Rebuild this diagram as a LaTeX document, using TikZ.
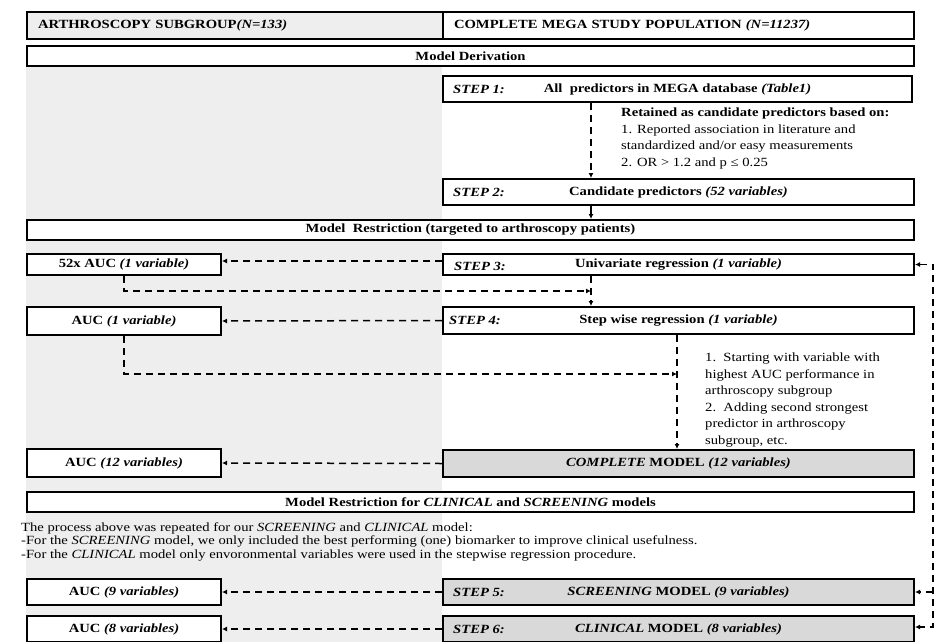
\documentclass[tikz,border=0pt]{standalone}
\usepackage{fontspec}
\setmainfont[FakeStretch=1.17]{Liberation Serif}
\usepackage{tikz}
\usetikzlibrary{arrows.meta}

\begin{document}
\begin{tikzpicture}[x=1pt,y=-1pt,
  box/.style={draw=black,line width=2pt,inner sep=0pt,anchor=north west,
    font=\fontsize{12.5}{14}\selectfont\bfseries},
  hdr/.style={box,minimum height=27pt,inner xsep=11pt,align=left},
  bar/.style={box,minimum width=887pt,minimum height=20pt},
  stepbox/.style={box,minimum width=471pt,minimum height=26pt},
  aucbox/.style={box,fill=white,minimum width=194pt,minimum height=26pt},
  steplbl/.style={anchor=west,inner sep=0pt,font=\fontsize{12.5}{14}\selectfont\bfseries\itshape},
  note/.style={anchor=north west,inner sep=0pt,align=left,font=\fontsize{12.5}{16.5}\selectfont},
  dline/.style={line width=1.5pt,dash pattern=on 7pt off 5pt},
  conn/.style={dline,-{Latex[length=5pt,width=5pt]}},
  bothconn/.style={dline,{Latex[length=5pt,width=5pt]}-{Latex[length=5pt,width=5pt]}}]
  \definecolor{subgray}{RGB}{238,238,238}
  \definecolor{modgray}{RGB}{217,217,217}
  \useasboundingbox (0,0) rectangle (939,642);
  \fill[subgray] (26,64) rectangle (442,642);
  % headers
  \node[hdr,fill=subgray,text width=394pt] (hdrL) at (26,11) {ARTHROSCOPY SUBGROUP\textit{(N=133)}};
  \node[hdr,fill=white,text width=449pt] (hdrR) at (442,11) {COMPLETE MEGA STUDY POPULATION \textit{(N=11237)}};
  \node[bar,fill=white] (derive) at (26,45) {Model Derivation};
  % derivation steps
  \node[stepbox,fill=white,minimum width=469pt] (step1) at (442,75) {All\ \ predictors in MEGA database \textit{(Table1)}};
  \node[steplbl] (step1lbl) at ([xshift=11pt]step1.west) {STEP 1:};
  \node[note] (retain) at (621,108) {\textbf{Retained as candidate predictors based on:}\\
    1. Reported association in literature and\\
    standardized and/or easy measurements\\
    2. OR > 1.2 and p ≤ 0.25};
  \node[stepbox,fill=white] (step2) at (442,178) {Candidate predictors \textit{(52 variables)}};
  \node[steplbl] (step2lbl) at ([xshift=11pt]step2.west) {STEP 2:};
  \node[bar,fill=white] (restrict) at (26,219) {Model\ \ Restriction (targeted to arthroscopy patients)};
  % restriction steps
  \node[stepbox,fill=white,minimum height=21pt] (step3) at (442,253) {\raisebox{2pt}{Univariate regression \textit{(1 variable)}}};
  \node[steplbl] (step3lbl) at ([xshift=12pt,yshift=-2pt]step3.west) {STEP 3:};
  \node[aucbox,minimum height=21pt] (auc52) at (26,253) {52x AUC \textit{(1 variable)}};
  \node[stepbox,fill=white,minimum height=27pt] (step4) at (442,306) {Step wise regression \textit{(1 variable)}};
  \node[steplbl] (step4lbl) at ([xshift=7pt]step4.west) {STEP 4:};
  \node[aucbox,minimum height=28pt] (auc1) at (26,306) {AUC \textit{(1 variable)}};
  \node[note] (stepwise) at (705,353) {1.\ \ Starting with variable with\\
    highest AUC performance in\\
    arthroscopy subgroup\\
    2.\ \ Adding second strongest\\
    predictor in arthroscopy\\
    subgroup, etc.};
  \node[stepbox,fill=modgray,minimum height=27pt] (complete) at (442,449) {\textit{COMPLETE} MODEL \textit{(12 variables)}};
  \node[aucbox,minimum height=28pt] (auc12) at (26,448) {AUC \textit{(12 variables)}};
  \node[bar,fill=white] (restrict2) at (26,491) {Model Restriction for \textit{CLINICAL} and \textit{SCREENING} models};
  \node[note,font=\fontsize{12.5}{13.5}\selectfont] (repeat) at (21,522) {The process above was repeated for our \textit{SCREENING} and \textit{CLINICAL} model:\\
    -For the \textit{SCREENING} model, we only included the best performing (one) biomarker to improve clinical usefulness.\\
    -For the \textit{CLINICAL} model only envoronmental variables were used in the stepwise regression procedure.};
  \node[stepbox,fill=modgray] (step5) at (442,578) {\textit{SCREENING} MODEL \textit{(9 variables)}};
  \node[steplbl] (step5lbl) at ([xshift=11pt]step5.west) {STEP 5:};
  \node[aucbox] (auc9) at (26,578) {AUC \textit{(9 variables)}};
  \node[stepbox,fill=modgray] (step6) at (442,615) {\textit{CLINICAL} MODEL \textit{(8 variables)}};
  \node[steplbl] (step6lbl) at ([xshift=11pt]step6.west) {STEP 6:};
  \node[aucbox] (auc8) at (26,615) {AUC \textit{(8 variables)}};
  % connectors
  \coordinate (mid3) at (591,291);
  \coordinate (mid4) at (677,374);
  \coordinate (loopx) at (933,0);
  \draw[conn] (step1.south -| mid3) -- (step2.north -| mid3);
  \draw[line width=1.5pt,-{Latex[length=5pt,width=5pt]}] (step2.south -| mid3) -- (restrict.north -| mid3);
  \draw[conn] ([yshift=3.5pt]step3.west) -- ([yshift=3.5pt]auc52.east);
  \draw[conn] (auc52.south) |- (mid3);
  \draw[conn] (step3.south -| mid3) -- (step4.north -| mid3);
  \draw[conn] (step4.west) -- (auc1.east);
  \draw[conn] (auc1.south) |- (mid4);
  \draw[conn] (step4.south -| mid4) -- (complete.north -| mid4);
  \draw[conn] (complete.west) -- (auc12.east);
  \draw[conn] (step5.west) -- (auc9.east);
  \draw[conn] (step6.west) -- (auc8.east);
  \draw[bothconn] (step3.east) -- (step3.east -| loopx) -- ([yshift=2pt]step6.east -| loopx) -- ([yshift=2pt]step6.east);
  \draw[conn] (step5.east -| loopx) -- (step5.east);
\end{tikzpicture}
\end{document}
